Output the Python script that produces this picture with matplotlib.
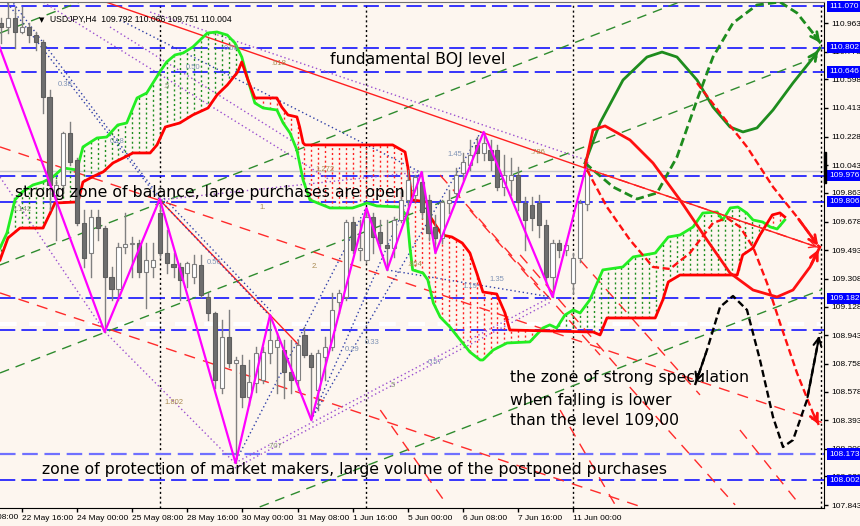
import numpy as np
import matplotlib
matplotlib.use('Agg')
import matplotlib.pyplot as plt
from matplotlib.transforms import blended_transform_factory

# ---------------- data ----------------
bar_index = list(range(-3, 83))
opens = [110.963,110.937,110.996,110.905,110.937,110.886,110.840,110.484,109.850,109.915,110.251,110.076,109.669,109.475,109.708,109.636,109.319,109.242,109.513,109.533,109.539,109.352,109.384,109.733,109.475,109.403,109.384,109.345,109.319,109.397,109.190,109.086,108.601,108.931,108.763,108.750,108.543,108.633,108.653,108.827,108.866,108.847,108.704,108.653,108.944,108.814,108.588,108.802,108.866,109.157,109.190,109.675,109.494,109.429,109.708,109.610,109.526,109.507,109.688,109.818,109.850,109.934,109.818,109.643,109.572,109.798,109.863,109.992,110.044,110.174,110.122,110.141,110.141,109.902,109.947,109.979,109.798,109.785,109.798,109.656,109.319,109.539,109.494,109.280,109.442,109.792]
highs = [110.996,111.093,111.067,111.067,110.963,110.905,110.853,110.530,109.947,110.258,110.322,110.089,109.753,109.753,109.753,109.649,109.384,109.539,109.733,109.578,109.559,109.539,109.539,109.824,109.623,109.475,109.410,109.416,109.462,109.462,109.216,109.093,109.041,109.106,108.802,108.814,108.782,108.866,108.866,109.073,108.957,108.912,108.912,108.912,108.996,108.827,108.847,108.931,109.216,109.235,109.688,109.708,109.688,109.766,109.733,109.688,109.688,109.708,109.882,110.012,109.979,109.999,109.850,109.721,109.818,109.882,110.025,110.122,110.206,110.225,110.258,110.206,110.174,110.109,110.089,110.031,109.837,109.837,109.850,109.688,109.559,109.559,109.539,109.475,109.818,110.066]
lows = [110.834,110.898,110.801,110.898,110.840,110.788,110.381,109.753,109.559,109.869,110.044,109.656,109.384,109.319,109.559,108.963,109.170,109.170,109.475,109.319,109.319,109.119,109.319,109.442,109.345,109.319,109.170,109.255,109.280,109.190,109.041,108.601,108.569,108.737,108.115,108.478,108.491,108.575,108.633,108.763,108.569,108.536,108.569,108.588,108.802,108.394,108.458,108.653,108.847,109.086,109.170,109.475,109.429,109.416,109.475,109.513,109.365,109.449,109.675,109.733,109.818,109.701,109.559,109.475,109.539,109.733,109.818,109.947,110.012,110.064,110.076,110.012,109.882,109.850,109.850,109.753,109.494,109.623,109.578,109.280,109.190,109.449,109.462,109.216,109.416,109.751]
closes = [110.937,110.996,110.905,110.937,110.886,110.840,110.484,109.915,109.915,110.251,110.064,109.669,109.442,109.708,109.636,109.319,109.242,109.513,109.533,109.539,109.352,109.429,109.429,109.475,109.410,109.384,109.300,109.410,109.403,109.203,109.086,108.653,108.931,108.763,108.782,108.543,108.640,108.827,108.834,108.912,108.912,108.704,108.653,108.879,108.814,108.737,108.827,108.866,109.106,109.216,109.675,109.494,109.507,109.708,109.578,109.539,109.507,109.688,109.818,109.947,109.966,109.740,109.604,109.572,109.805,109.818,109.979,110.064,110.109,110.122,110.187,110.076,109.902,109.979,109.979,109.805,109.688,109.701,109.656,109.319,109.539,109.494,109.526,109.442,109.798,110.004]

zigzag_i = [-5, 12, 20, 31, 36, 42, 50, 53, 58, 60, 67, 77, 82]
zigzag_p = [111.019, 108.963, 109.824, 108.115, 109.073, 108.394, 109.766, 109.365, 109.999, 109.475, 110.258, 109.190, 110.057]

green_i = [-3.19,-2.18,-1.02,0,1.6,3.05,4.5,5.95,7.98,8.85,10.9,12.3,13.9,15.2,16.7,18.1,20.0,21.0,22.2,23.4,24.8,26.9,28.3,29.8,30.9,31.9,32.8,33.8,35.0,37.0,37.9,38.9,39.9,40.8,41.8,44.7,48.0,50.1,51.5,54.9,55.9,56.3,56.7,58.2,58.9,59.7,60.7,62.1,63.6,65.0,66.5,66.9,68.4,70.4,73.7,75.6,76.6,77.6,78.8,80.0,81.0,82.4,84.3,87.2,88.7,91.9,93.8,95.5,97.4,98.8,100.9,101.7,102.8,103.9,105.2,106.1,107.5,108.6,109.6,110.7]
green_p = [109.507,109.604,109.818,109.869,109.915,109.934,109.967,110.025,110.012,110.161,110.219,110.225,110.303,110.316,110.478,110.510,110.646,110.711,110.756,110.769,110.808,110.898,110.905,110.885,110.834,110.743,110.594,110.445,110.413,110.400,110.316,110.251,110.141,109.947,109.818,109.766,109.766,109.798,109.779,109.772,109.708,109.513,109.365,109.345,109.300,109.151,109.060,108.996,108.912,108.834,108.782,108.782,108.847,108.892,108.899,108.989,109.009,108.989,109.073,109.106,109.086,109.170,109.365,109.384,109.449,109.474,109.578,109.591,109.643,109.733,109.740,109.688,109.766,109.772,109.733,109.688,109.675,109.643,109.630,109.688]
red_i = [-3.19,-2.03,-0.29,3.05,4.79,8.13,8.85,10.2,11.8,13.2,14.7,16.1,18.6,19.6,20.8,22.9,24.8,27.0,28.3,29.8,31.3,31.9,32.8,33.8,37.0,37.7,38.6,39.9,40.3,40.8,41.1,53.8,55.6,56.0,56.6,58.8,58.9,60.2,61.0,62.4,63.9,65.0,66.0,66.9,68.9,70.1,70.8,82.9,83.9,84.9,91.9,93.0,93.8,95.5,103.8,104.6,106.1,107.1,108.9,110.0,110.7]
red_p = [109.429,109.572,109.636,109.636,109.798,109.805,109.934,109.967,110.000,110.057,110.090,110.122,110.122,110.174,110.290,110.316,110.368,110.413,110.497,110.562,110.646,110.711,110.594,110.478,110.478,110.419,110.368,110.355,110.290,110.187,110.174,110.174,110.128,110.031,109.818,109.805,109.734,109.643,109.591,109.578,109.539,109.475,109.345,109.222,109.209,109.086,108.976,108.963,108.944,109.054,109.054,109.170,109.287,109.332,109.332,109.462,109.507,109.591,109.721,109.734,109.708]

# horizontal levels
blue_levels = [111.070, 110.802, 110.646, 109.976, 109.806, 109.182, 108.976, 108.002]
light_levels = [108.173]
boxed_levels = [111.070, 110.802, 110.646, 109.976, 109.806, 109.182, 108.173, 108.002]
white_level = 109.012
bid_price = 110.004
right_ticks = [110.963, 110.778, 110.598, 110.413, 110.228, 110.043, 109.863, 109.678, 109.493,
               109.308, 109.128, 108.943, 108.758, 108.578, 108.393, 108.208, 108.028, 107.843]
x_tick_pos = [0, 8, 16, 24, 32, 40, 48, 56, 64, 72, 80]
x_tick_lab = ['22 May 16:00', '24 May 00:00', '25 May 08:00', '28 May 16:00', '30 May 00:00',
              '31 May 08:00', '1 Jun 16:00', '5 Jun 00:00', '6 Jun 08:00', '7 Jun 16:00', '11 Jun 00:00']
week_sep = [20, 50, 80]

# trend lines ((i0,p0),(i1,p1))
green_channel = [((-3.19, 110.898), (9.14, 111.112)),
                 ((-3.19, 109.397), (96.2, 111.112)),
                 ((-3.19, 108.698), (116.1, 110.756)),
                 ((34.5, 107.831), (116.1, 109.238))]
red_long = [((-3.19, 110.161), (116.1, 108.378)),
            ((-3.19, 109.216), (90.4, 107.824))]
red_steep = [((60.67, 109.979), (83.9, 108.814)),
             ((65.0, 109.753), (75.2, 109.235)),
             ((72.3, 109.462), (86.8, 108.717)),
             ((81.0, 109.429), (98.4, 108.556)),
             ((88.2, 108.607), (103.5, 107.844)),
             ((78.1, 108.458), (86.1, 107.844)),
             ((104.2, 108.329), (112.9, 107.844)),
             ((52.0, 108.458), (61.7, 107.844))]
red_thin = [((11.32, 111.112), (82.0, 110.02)),
            ((20.0, 109.818), (40.3, 108.873))]
blue_dotted = [((-2.47, 111.112), (20.0, 109.818)),
               ((-1.6, 111.112), (20.6, 109.800)),
               ((20.0, 109.818), (35.85, 109.073)),
               ((20.6, 109.830), (36.4, 109.085)),
               ((14.22, 110.983), (57.77, 109.999)),
               ((41.94, 108.394), (57.77, 109.999)),
               ((41.94, 108.394), (66.6, 110.258)),
               ((52.97, 109.365), (76.78, 109.190)),
               ((30.9, 108.115), (49.9, 109.766))]
purple_dotted = [((-3.19, 109.966), (12.05, 108.963)),
                 ((12.05, 108.963), (30.9, 108.115)),
                 ((30.9, 108.115), (76.78, 109.190)),
                 ((30.9, 108.083), (76.78, 109.158)),
                 ((2.61, 111.112), (44.7, 109.947)),
                 ((12.77, 110.937), (40.35, 110.167)),
                 ((20.0, 109.818), (57.77, 109.999)),
                 ((18.6, 111.034), (81.86, 110.077))]

fib_labels = [('0.38', 6.24, 110.568, 'b'), ('0.60', 30.33, 110.801, 'b'), ('0.50', 24.8, 110.672, 'b'),
              ('.5', 21.0, 110.549, 'g'), ('.618', 37.2, 110.704, 'o'), ('0.18', 13.8, 110.193, 'b'),
              ('1.142', 0.0, 109.753, 'g'), ('1.', 35.0, 109.766, 'o'), ('0.56', 27.9, 109.416, 'b'),
              ('1.802', 22.1, 108.504, 'o'), ('.707', 36.7, 108.219, 'g'), ('1.272', 44.0, 110.012, 'o'),
              ('2.', 42.5, 109.384, 'o'), ('.854', 57.0, 109.397, 'o'), ('1.45', 62.8, 110.109, 'b'),
              ('.786', 74.9, 110.128, 'o'), ('1.35', 68.9, 109.300, 'b'), ('1.19', 65.0, 109.255, 'b'),
              ('0.29', 47.9, 108.847, 'b'), ('0.33', 50.8, 108.892, 'b'), ('0.57', 59.9, 108.763, 'b'),
              ('.5', 53.8, 108.620, 'g')]

# projected scenarios
g_solid_i = [81.71, 83.89, 87.23, 90.71, 92.89, 95.06, 97.97, 100.29, 102.76, 104.64, 106.68, 109.0, 111.9, 114.8, 115.8]
g_solid_p = [110.057, 110.316, 110.594, 110.743, 110.775, 110.743, 110.594, 110.419, 110.290, 110.258, 110.284, 110.400, 110.575, 110.737, 110.801]
g_dash_i = [81.71, 85.78, 89.26, 92.16, 95.06, 97.97, 100.29, 103.19, 106.68, 110.01, 112.48, 114.8, 116.1]
g_dash_p = [110.057, 109.902, 109.824, 109.863, 110.096, 110.465, 110.743, 110.963, 111.080, 111.099, 111.028, 110.898, 110.821]
r_solid_i = [81.71, 82.87, 84.62, 88.24, 91.58, 95.5, 99.42, 102.76, 106.1, 109.58, 111.9, 114.37, 115.8]
r_solid_p = [110.031, 110.271, 110.297, 110.206, 110.057, 109.818, 109.559, 109.345, 109.235, 109.190, 109.235, 109.384, 109.513]
r_dash1_i = [82.0, 84.9, 88.24, 91.58, 94.05, 96.95, 100.29, 102.32, 104.21, 106.1, 108.13, 110.01, 112.48, 114.8, 115.8]
r_dash1_p = [110.012, 109.772, 109.559, 109.384, 109.371, 109.475, 109.669, 109.701, 109.643, 109.513, 109.280, 109.022, 108.698, 108.439, 108.348]
r_dash2_i = [97.97, 101.31, 105.22, 109.0, 112.48, 115.8]
r_dash2_p = [110.575, 110.381, 110.161, 109.902, 109.708, 109.507]
r_arrow = ((82.0, 110.02), (115.8, 109.507))
k_dash_i = [97.68, 99.42, 101.31, 103.19, 105.22, 107.11, 109.0, 110.45, 111.9, 113.93, 115.8]
k_dash_p = [108.620, 108.847, 109.125, 109.196, 109.106, 108.782, 108.413, 108.219, 108.264, 108.523, 108.957]

header = 'USDJPY,H4  109.792 110.066 109.751 110.004'
notes = [('fundamental BOJ level', 44.7, 110.724),
         ('strong zone of balance, large purchases are open', -1.02, 109.869),
         ('the zone of strong speculation', 70.8, 108.666),
         ('when falling is lower', 70.8, 108.523),
         ('than the level 109,00', 70.8, 108.388),
         ('zone of protection of market makers, large volume of the postponed purchases', 2.9, 108.070)]

# ---------------- figure ----------------
BG = '#fdf6ef'
fig = plt.figure(figsize=(8.6, 5.26), dpi=100)
fig.patch.set_facecolor(BG)
ax = fig.add_axes([0, 18 / 526, 824 / 860, 506 / 526])
ax.set_facecolor(BG)
ax.set_xlim(-3.19, 116.4)
ax.set_ylim(107.824, 111.099)

TF = 'Liberation Sans'

def seg(lines, **kw):
    for (a, b) in lines:
        ax.plot([a[0], b[0]], [a[1], b[1]], **kw)

# horizontal lines
for lv in blue_levels:
    ax.axhline(lv, color='#0000ff', lw=1.1, ls=(0, (10, 4)), zorder=2)
for lv in light_levels:
    ax.axhline(lv, color='#7070ff', lw=1.6, ls=(0, (7, 3)), zorder=2)
ax.axhline(white_level, color='white', lw=3, ls=(0, (4, 3)), zorder=1.5)
ax.axhline(bid_price, color='#c8c8c8', lw=1, zorder=1.4)

for w in week_sep:
    ax.axvline(w, color='black', lw=1, ls=(0, (1.5, 2)), zorder=1.6)
ax.axvline(116.0, color='black', lw=1, ls=(0, (1.5, 2)), zorder=1.6)

seg(green_channel, color='#2e8b2e', lw=1, ls=(0, (7, 5)), zorder=2)
seg(red_long, color='#ff2a2a', lw=1, ls=(0, (8, 6)), zorder=2)
seg(red_steep, color='#ff2a2a', lw=1, ls=(0, (8, 6)), zorder=2)
seg(red_thin, color='#ff2020', lw=1, zorder=2)
seg(blue_dotted, color='#3040a8', lw=1, ls=(0, (1, 2)), zorder=2)
seg(purple_dotted, color='#9b4fd0', lw=1, ls=(0, (1, 2)), zorder=2)

# Ichimoku cloud
for b in range(-3, 111):
    g = np.interp(b, green_i, green_p)
    r = np.interp(b, red_i, red_p)
    col = '#1f8f1f' if g >= r else '#ff2020'
    ax.plot([b, b], [min(g, r), max(g, r)], color=col, lw=1, ls=(0, (1.5, 2)), zorder=2.5)
ax.plot(green_i, green_p, color='#22ee22', lw=2, zorder=3)
ax.plot(red_i, red_p, color='#ff0000', lw=2, zorder=3)

# candles
for i, o, h, l, c in zip(bar_index, opens, highs, lows, closes):
    ax.plot([i, i], [l, h], color='#808080', lw=1, zorder=4)
    bull = c >= o
    lo, hi = min(o, c), max(o, c)
    if hi - lo < 0.006:
        ax.plot([i - 0.3, i + 0.3], [c, c], color='#808080', lw=1, zorder=4.1)
    else:
        ax.bar(i, hi - lo, bottom=lo, width=0.6, color='white' if bull else '#6e6e6e',
               edgecolor='#808080' if bull else '#5e5e5e', lw=0.8, zorder=4.1)

ax.plot(zigzag_i, zigzag_p, color='#ff00ff', lw=1.6, zorder=5)

# scenarios
def arrow_end(xs, ys, color, lw=2, ms=14):
    ax.annotate('', xy=(xs[-1], ys[-1]), xytext=(xs[-2], ys[-2]),
                arrowprops=dict(arrowstyle='->', color=color, lw=lw, mutation_scale=ms), zorder=5.5)

ax.plot(g_solid_i, g_solid_p, color='#1e8c1e', lw=2, zorder=5)
arrow_end(g_solid_i, g_solid_p, '#1e8c1e')
ax.plot(g_dash_i, g_dash_p, color='#1e8c1e', lw=2, ls=(0, (3, 1.5)), zorder=5)
arrow_end(g_dash_i, g_dash_p, '#1e8c1e')
ax.plot(r_solid_i, r_solid_p, color='#ff1010', lw=2, zorder=5)
arrow_end(r_solid_i, r_solid_p, '#ff1010')
ax.plot(r_dash1_i, r_dash1_p, color='#ff1010', lw=1.7, ls=(0, (3, 1.5)), zorder=5)
arrow_end(r_dash1_i, r_dash1_p, '#ff1010')
ax.plot(r_dash2_i, r_dash2_p, color='#ff1010', lw=1.7, ls=(0, (3, 1.5)), zorder=5)
arrow_end(r_dash2_i, r_dash2_p, '#ff1010')
ax.plot([r_arrow[0][0], r_arrow[1][0]], [r_arrow[0][1], r_arrow[1][1]], color='#ff2020', lw=1, ls=(0, (8, 4)), zorder=5)
ax.annotate('', xy=r_arrow[1], xytext=r_arrow[0],
            arrowprops=dict(arrowstyle='->', color='#ff2020', lw=1, mutation_scale=12), zorder=5.5)
ax.plot(k_dash_i, k_dash_p, color='black', lw=1.7, ls=(0, (3, 1.5)), zorder=5)
arrow_end(k_dash_i, k_dash_p, 'black', lw=1.5)
arrow_end(k_dash_i[::-1], k_dash_p[::-1], 'black', lw=1.5)

# fib labels
fcol = {'b': '#7f93b5', 'o': '#a88a50', 'g': '#8a9a78'}
for s, x, y, k in fib_labels:
    ax.text(x, y, s, fontsize=5.5, color=fcol[k], ha='center', va='center', family=TF, zorder=6)

# notes: one common size, fitted so the long middle note spans ~390 px
renderer = fig.canvas.get_renderer()
probe = ax.text(0, 0, notes[1][0], fontsize=10, family='DejaVu Sans')
fs = 10 * 390 / probe.get_window_extent(renderer).width
probe.remove()
for s, x, y in notes:
    ax.text(x, y, s, fontsize=fs, color='black', ha='left', va='center', family='DejaVu Sans', zorder=7)

# header
ax.text(0.047, 0.965, '\u25bc', transform=ax.transAxes, fontsize=5, ha='left', va='center', color='black', zorder=7)
ax.text(50 / 824, 0.965, header, transform=ax.transAxes, fontsize=6.2, ha='left', va='center', family=TF, zorder=7)

# axes styling
ax.spines['left'].set_visible(False)
ax.spines['top'].set_color('#707070')
ax.spines['right'].set_color('black')
ax.spines['bottom'].set_color('black')
ax.yaxis.tick_right()
ax.set_yticks(right_ticks)
ax.set_yticklabels(['%.3f' % v for v in right_ticks], fontsize=6, family=TF)
ax.tick_params(axis='y', length=3, width=1, pad=2, colors='black')
ax.set_xticks(x_tick_pos)
ax.set_xticklabels(x_tick_lab, fontsize=6, family=TF, ha='left')
ax.tick_params(axis='x', length=3, width=1, pad=2, colors='black')
ax.text(-8, -0.012, '21 May 08:00', transform=blended_transform_factory(ax.transData, ax.transAxes),
        fontsize=6, family=TF, ha='left', va='top', clip_on=False)

tr = blended_transform_factory(ax.transAxes, ax.transData)
for lv in boxed_levels:
    ax.text(1.006, lv, '%.3f' % lv, transform=tr, fontsize=6, family=TF, color='white', ha='left', va='center',
            bbox=dict(boxstyle='square,pad=0.25', fc='#0000ff', ec='none'), zorder=10, clip_on=False)
ax.add_patch(plt.Rectangle((1.0, 109.93), 0.003, 0.2, transform=tr, color='black', clip_on=False, zorder=10))

fig.savefig('out.png', dpi=100, facecolor=BG)
